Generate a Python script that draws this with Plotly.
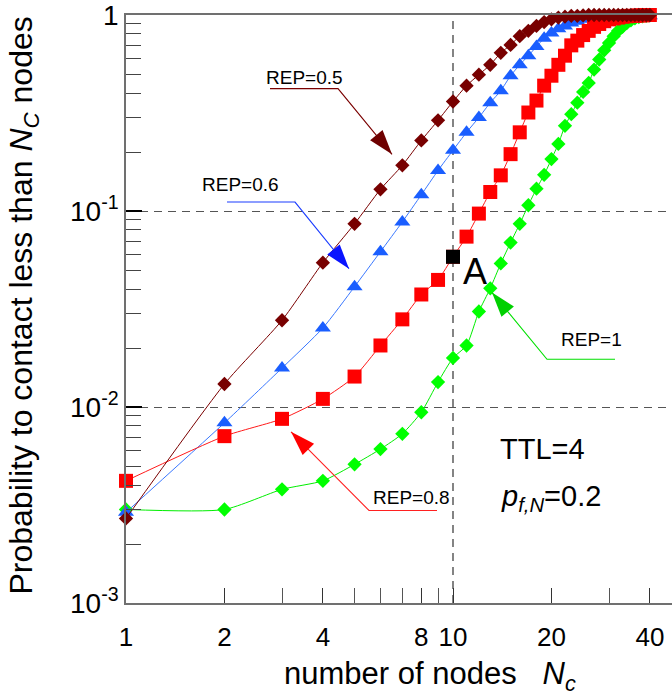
import numpy as np
import plotly.graph_objects as go

# Number of contacted nodes N_c
n_c = list(range(1, 41))

# Probability to contact less than N_c nodes, one series per REP value
p_rep05 = [0.0027, 0.0131, 0.0277, 0.0545, 0.086, 0.129, 0.171, 0.229, 0.29, 0.362,
           0.436, 0.496, 0.557, 0.641, 0.704, 0.78, 0.83, 0.88, 0.92, 0.95,
           0.97, 0.98, 0.99, 0.99, 0.995, 1.0, 1.0, 1.0, 1.0, 1.0,
           1.0, 1.0, 1.0, 1.0, 1.0, 1.0, 1.0, 1.0, 1.0, 1.0]
p_rep06 = [0.0029, 0.0083, 0.0158, 0.0253, 0.0411, 0.062, 0.088, 0.121, 0.161, 0.204,
           0.252, 0.30, 0.357, 0.411, 0.49, 0.557, 0.62, 0.69, 0.76, 0.81,
           0.85, 0.88, 0.91, 0.93, 0.95, 0.96, 0.97, 0.975, 0.98, 0.985,
           0.985, 0.99, 0.99, 0.99, 0.99, 0.99, 0.99, 0.99, 0.99, 0.99]
p_rep08 = [0.0042, 0.0071, 0.0087, 0.011, 0.0143, 0.0206, 0.028, 0.0375, 0.0445, 0.0584,
           0.074, 0.097, 0.125, 0.152, 0.195, 0.252, 0.318, 0.366, 0.436, 0.49,
           0.557, 0.62, 0.70, 0.74, 0.79, 0.83, 0.87, 0.90, 0.93, 0.95,
           0.96, 0.97, 0.98, 0.985, 0.99, 0.99, 0.995, 0.995, 1.0, 1.0]
p_rep10 = [0.0030, 0.0030, 0.0038, 0.0042, 0.0051, 0.0061, 0.0073, 0.0094, 0.0134, 0.0178,
           0.0206, 0.0307, 0.0403, 0.054, 0.069, 0.086, 0.107, 0.13, 0.153, 0.184,
           0.22, 0.272, 0.312, 0.357, 0.405, 0.45, 0.527, 0.593, 0.66, 0.72,
           0.78, 0.83, 0.87, 0.91, 0.94, 0.96, 0.975, 0.985, 0.99, 0.995]

# Highlighted point "A": REP=0.8 curve at N_c = 10
point_a_nc = 10

x_tickvals = [1, 2, 4, 8, 10, 20, 40]
x_ticktext = ["1", "2", "4", "8", "10", "20", "40"]
x_minor_ticks = [3, 5, 6, 7, 9, 30]
y_tickvals = [1e-3, 1e-2, 1e-1, 1]
y_ticktext = ["10<sup>-3</sup>", "10<sup>-2</sup>", "10<sup>-1</sup>", "1"]

FONT = "Arial, Liberation Sans, sans-serif"
W, H = 672, 698
ML, MR, MT, MB = 126, 0, 12, 95
PLOT_W, PLOT_H = W - ML - MR, H - MT - MB
DECADE_X = 327.0  # px per decade on x


def paper_x(px):
    return (px - ML) / PLOT_W


def paper_y(py):
    return (H - MB - py) / PLOT_H


fig = go.Figure()

# dashed reference line at N_c = 10
fig.add_trace(go.Scatter(x=[10, 10], y=[1e-3, 1], mode="lines",
                         line=dict(color="#333333", width=1.2, dash="8px,6px"),
                         hoverinfo="skip", showlegend=False))

series = [
    ("REP=1", p_rep10, "#00ee00", "#00ff00", "diamond", 11),
    ("REP=0.6", p_rep06, "#3a78ff", "#1a5eff", "triangle-up", 14),
    ("REP=0.8", p_rep08, "#ff1a1a", "#ff0000", "square", 14),
    ("REP=0.5", p_rep05, "#7a0000", "#780000", "diamond", 11),
]
for name, vals, lc, mc, sym, size in series:
    fig.add_trace(go.Scatter(
        x=n_c, y=vals, name=name, mode="lines+markers",
        line=dict(color=lc, width=1, shape="spline", smoothing=0.6),
        marker=dict(symbol=sym, size=size, color=mc, line=dict(width=0)),
        cliponaxis=False, showlegend=False))

ia = n_c.index(point_a_nc)
fig.add_trace(go.Scatter(x=[n_c[ia]], y=[p_rep08[ia]], mode="markers",
                         marker=dict(symbol="square", size=14, color="black"),
                         cliponaxis=False, showlegend=False))

# Callouts, laid out on a pixel-space overlay (x2/y2)
callouts = [
    ("REP=0.5", (304, 75), [(270, 86), (338, 86), (392, 152)], "#7a0000", "#6e0000"),
    ("REP=0.6", (240, 182), [(227, 200), (295, 200), (349, 267)], "#1a3cff", "#0a14ff"),
    ("REP=0.8", (411, 497), [(437, 510), (369, 510), (291, 431)], "#ff2020", "#ff0000"),
    ("REP=1", (591, 338), [(615, 358), (547, 358), (492, 291)], "#00e000", "#00d000"),
]
annotations = []
for text, (tx, ty), path, lcol, acol in callouts:
    xs = [p[0] for p in path]
    ys = [p[1] for p in path]
    fig.add_trace(go.Scatter(x=xs, y=ys, xaxis="x2", yaxis="y2", mode="lines",
                             line=dict(color=lcol, width=1.1), hoverinfo="skip",
                             showlegend=False, cliponaxis=False))
    dx, dy = xs[-1] - xs[-2], ys[-1] - ys[-2]
    ang = float(np.degrees(np.arctan2(dx, -dy)))
    fig.add_trace(go.Scatter(x=[xs[-1]], y=[ys[-1]], xaxis="x2", yaxis="y2", mode="markers",
                             marker=dict(symbol="arrow", size=26, angle=ang, color=acol,
                                         line=dict(width=0)),
                             hoverinfo="skip", showlegend=False, cliponaxis=False))
    annotations.append(dict(x=paper_x(tx), y=paper_y(ty), xref="paper", yref="paper",
                            text=text, showarrow=False,
                            font=dict(family=FONT, size=19, color="black"),
                            xanchor="center", yanchor="middle"))

annotations += [
    dict(x=paper_x(475), y=paper_y(270), xref="paper", yref="paper", text="A",
         showarrow=False, font=dict(family=FONT, size=36, color="black"),
         xanchor="center", yanchor="middle"),
    dict(x=paper_x(542), y=paper_y(448), xref="paper", yref="paper", text="TTL=4",
         showarrow=False, font=dict(family=FONT, size=29, color="black"),
         xanchor="center", yanchor="middle"),
    dict(x=paper_x(499), y=paper_y(497), xref="paper", yref="paper",
         text="<i>p</i><sub><i>f,N</i></sub>=0.2", showarrow=False,
         font=dict(family=FONT, size=29, color="black"), xanchor="left", yanchor="middle"),
    dict(x=paper_x(430), y=paper_y(676), xref="paper", yref="paper",
         text="number of nodes&nbsp;&nbsp;&nbsp;<i>N</i><sub><i>c</i></sub>", showarrow=False,
         font=dict(family=FONT, size=31, color="black"), xanchor="center", yanchor="middle"),
    dict(x=paper_x(24), y=paper_y(304), xref="paper", yref="paper", textangle=-90,
         text="Probability to contact less than <i>N</i><sub><i>C</i></sub> nodes",
         showarrow=False, font=dict(family=FONT, size=32, color="black"),
         xanchor="center", yanchor="middle"),
]

y_minor_ticks = [m * 10.0 ** e for e in (-3, -2, -1) for m in range(2, 10)]

fig.update_layout(
    width=W, height=H, margin=dict(l=ML, r=MR, t=MT, b=MB),
    paper_bgcolor="white", plot_bgcolor="white",
    font=dict(family=FONT, color="black"),
    showlegend=False,
    xaxis=dict(type="log", range=[0, PLOT_W / DECADE_X],
               tickmode="array", tickvals=x_tickvals, ticktext=x_ticktext,
               ticks="inside", ticklen=15, tickwidth=1.3, tickcolor="#333333",
               tickfont=dict(size=26), ticklabelstandoff=10, ticklabeloverflow="allow",
               showline=True, linecolor="#707070", linewidth=1.5, mirror=True,
               showgrid=False, zeroline=False,
               minor=dict(tickmode="array", tickvals=x_minor_ticks, ticks="inside",
                          ticklen=15, tickwidth=1.3, tickcolor="#555555", showgrid=False)),
    yaxis=dict(type="log", range=[-3, 0],
               tickmode="array", tickvals=y_tickvals, ticktext=y_ticktext,
               ticks="inside", ticklen=16, tickwidth=2, tickcolor="black",
               tickfont=dict(size=28), ticklabeloverflow="allow",
               showline=True, linecolor="#707070", linewidth=1.5,
               showgrid=True, gridcolor="#555555", gridwidth=1.2, griddash="8px,6px",
               zeroline=False,
               minor=dict(tickmode="array", tickvals=y_minor_ticks, ticks="inside",
                          ticklen=15, tickwidth=1.2, tickcolor="#444444", showgrid=False)),
    xaxis2=dict(overlaying="x", anchor="y2", range=[ML, W - MR], visible=False),
    yaxis2=dict(overlaying="y", anchor="x2", range=[H - MB, MT], visible=False),
    annotations=annotations,
)

fig.write_html("out.html")
